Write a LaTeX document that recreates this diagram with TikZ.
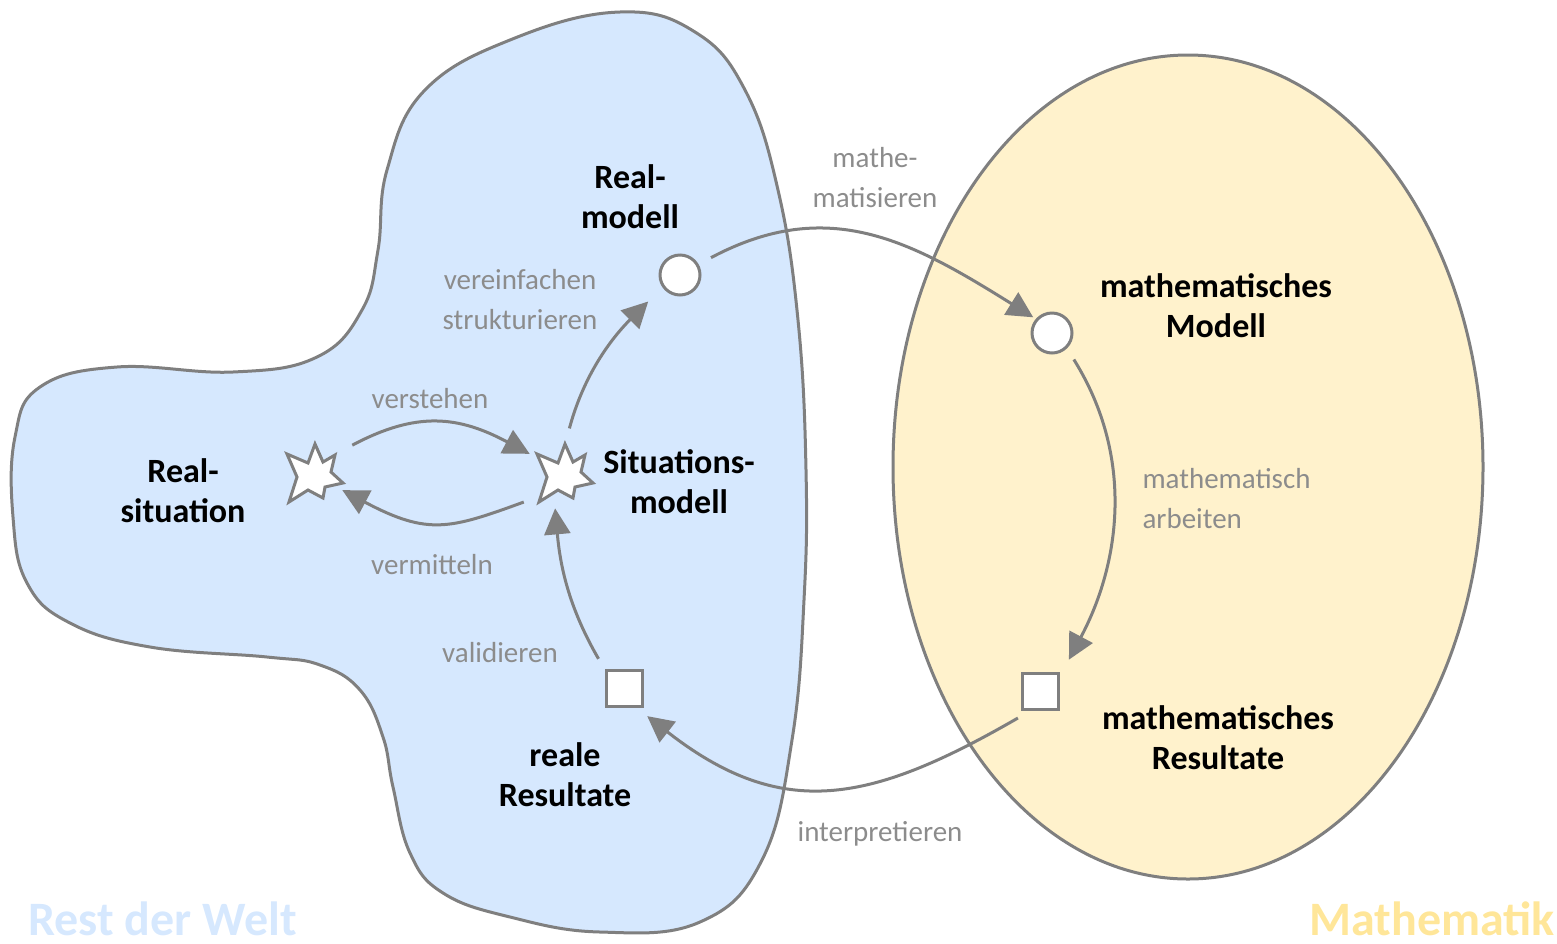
\documentclass[tikz,border=0pt]{standalone}
\usepackage{fontspec}
\setmainfont{Carlito}
\usepackage{tikz}
\usetikzlibrary{arrows.meta}
\definecolor{edge}{HTML}{7F7F7F}
\definecolor{txtgray}{HTML}{8C8C8C}
\definecolor{world}{HTML}{D6E8FE}
\definecolor{mathe}{HTML}{FFF2CC}
\definecolor{matheword}{HTML}{FFE699}
\newcommand{\burst}[1]{\draw[draw=edge,line width=3pt,fill=white,line join=miter,shift={(#1)}] (-28,21)--(-7,12)--(0,31)--(8,13)--(20,20)--(16,3)--(28,-8)--(10,-12)--(8,-23)--(-7,-15)--(-26,-27)--(-18,-2)--cycle;}

\begin{document}
\begin{tikzpicture}[x=1pt,y=1pt,
  lbl/.style={font=\bfseries\fontsize{34}{40}\selectfont,align=center},
  act/.style={text=txtgray,font=\fontsize{29}{40}\selectfont,align=center},
  dot/.style={circle,draw=edge,line width=3pt,fill=white,minimum size=40pt,inner sep=0pt},
  box/.style={rectangle,draw=edge,line width=3pt,fill=white,minimum size=36pt,inner sep=0pt},
  starnode/.style={circle,minimum size=60pt,inner sep=0pt},
  flow/.style={draw=edge,line width=3pt,-{Triangle[length=26pt,width=26pt]}}]
\useasboundingbox (0,0) rectangle (1557,-943);
\draw[draw=edge,line width=3pt,fill=world] plot[smooth cycle,tension=0.7] coordinates {(620,-12) (695,-32) (745,-90) (778,-190) (798,-320) (806,-470) (804,-600) (792,-740) (762,-860) (700,-922) (600,-932) (510,-917) (443,-893) (410,-853) (393,-787) (383,-737) (360,-690) (320,-665) (267,-657) (150,-647) (70,-623) (27,-583) (13,-517) (15,-437) (40,-387) (117,-367) (233,-372) (317,-357) (362,-310) (378,-250) (387,-170) (425,-90) (515,-38)};
\draw[draw=edge,line width=3pt,fill=mathe] (1188,-467) ellipse [x radius=295, y radius=412];
\node[font=\bfseries\fontsize{48}{52}\selectfont,text=world,anchor=base west,inner sep=0pt] (rdw) at (28,-935) {Rest der Welt};
\node[font=\bfseries\fontsize{48}{52}\selectfont,text=matheword,anchor=base east,inner sep=0pt] (mat) at (1555,-935) {Mathematik};
\node[starnode] (ls) at (315,-475) {};\burst{ls}
\node[starnode] (rs) at (565,-475) {};\burst{rs}
\node[dot] (rm) at (680,-275) {};
\node[dot] (mm) at (1052,-333) {};
\node[box] (rr) at (624,-688) {};
\node[box] (mr) at (1040,-691) {};
\node[lbl] (trm) at (630,-197) {Real-\\modell};
\node[lbl] (tmm) at (1216,-306) {mathematisches\\Modell};
\node[lbl] (tls) at (183,-491) {Real-\\situation};
\node[lbl] (trs) at (679,-482) {Situations-\\modell};
\node[lbl] (trr) at (565,-775) {reale\\Resultate};
\node[lbl] (tmr) at (1218,-738) {mathematisches\\Resultate};
\node[act] (a1) at (875,-178) {mathe-\\matisieren};
\node[act] (a2) at (520,-300) {vereinfachen\\strukturieren};
\node[act] (a3) at (430,-399) {verstehen};
\node[act] (a4) at (432,-565) {vermitteln};
\node[act,align=left,anchor=west] (a5) at (1139,-499) {mathematisch\\arbeiten};
\node[act] (a6) at (500,-653) {validieren};
\node[act] (a7) at (880,-834) {interpretieren};
\draw[flow,shorten <=18pt,shorten >=11pt] (ls.45) to[out=28,in=152,looseness=1.15] (rs.148);
\draw[flow,shorten <=20pt,shorten >=1pt] (rs.222) to[out=200,in=-28,looseness=1.25] (ls.-29);
\draw[flow,shorten <=17pt,shorten >=20pt] (rs.90) to[out=75,in=225] (rm.215);
\draw[flow,shorten <=14pt,shorten >=3pt] (rm.30) to[out=28,in=148,looseness=1.1] (mm.139);
\draw[flow,shorten <=13pt,shorten >=20pt] (mm.-46) to[out=-58,in=62] (mr.35);
\draw[flow,shorten <=15pt,shorten >=14pt] (mr.245) to[out=210,in=-38,looseness=1.2] (rr.-58);
\draw[flow,shorten <=12pt,shorten >=5pt] (rr.136) to[out=120,in=-85] (rs.250);
\end{tikzpicture}
\end{document}
